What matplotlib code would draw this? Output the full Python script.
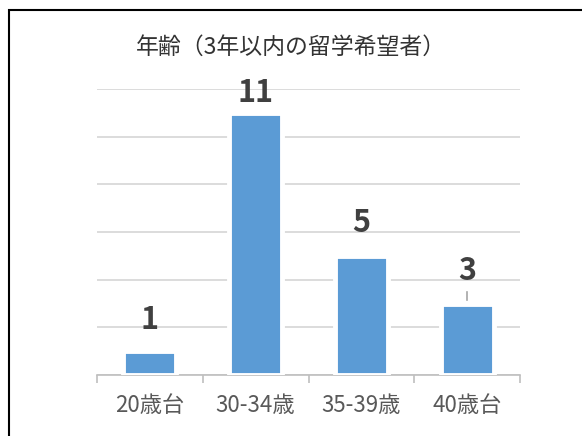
import matplotlib
matplotlib.use("Agg")
import matplotlib.pyplot as plt
from matplotlib.patches import Rectangle

plt.rcParams['font.family'] = ['Noto Sans CJK JP', 'DejaVu Sans']

categories = ['20歳台', '30-34歳', '35-39歳', '40歳台']
counts = [1, 11, 5, 3]
# label centre above the bar top (data units), as placed in the original
label_offsets = [1.47, 0.97, 1.52, 1.52]

fig = plt.figure(figsize=(5.82, 4.36), dpi=100)
ax = fig.add_axes([97 / 582, 1 - 375 / 436, 423 / 582, 286 / 436])

x = list(range(len(categories)))
ax.bar(x, counts, width=0.5, color='#5B9BD5', edgecolor='white', linewidth=3.5, zorder=3)

for i, v in enumerate(counts):
    ax.text(i, v + label_offsets[i], str(v), ha='center', va='center_baseline',
            fontsize=22, fontweight='bold', color='#404040', zorder=4)

# leader line for the moved label on the last bar
ax.plot([3, 3], [counts[3] + 0.13, counts[3] + 0.5], color='#A6A6A6', lw=1.2, zorder=4)

ax.set_xlim(-0.5, 3.5)
ax.set_ylim(0, 12)
ax.set_yticks(range(0, 13, 2))
ax.yaxis.grid(True, color='#D9D9D9', lw=1.3, zorder=0)
ax.set_axisbelow(True)
ax.tick_params(axis='y', left=False, labelleft=False)

for s in ['top', 'right', 'left']:
    ax.spines[s].set_visible(False)
ax.spines['bottom'].set_color('#BFBFBF')
ax.spines['bottom'].set_linewidth(1.2)

ax.set_xticks([-0.5, 0.5, 1.5, 2.5, 3.5])
ax.set_xticklabels([])
ax.tick_params(axis='x', which='major', length=6, color='#BFBFBF', width=1.2)
ax.set_xticks(x, minor=True)
ax.set_xticklabels(categories, minor=True, fontsize=16, color='#595959')
ax.tick_params(axis='x', which='minor', length=0, pad=14)

fig.text(0.5, 1 - 47 / 436, '年齢（3年以内の留学希望者）', ha='center', va='center',
         fontsize=16.5, color='#333333')

fig.patches.append(Rectangle((9 / 582, -0.1), 1.2, 1.1 - 10 / 436, transform=fig.transFigure,
                             fill=False, edgecolor='black', linewidth=1.5))

fig.savefig('out.png', dpi=100)
